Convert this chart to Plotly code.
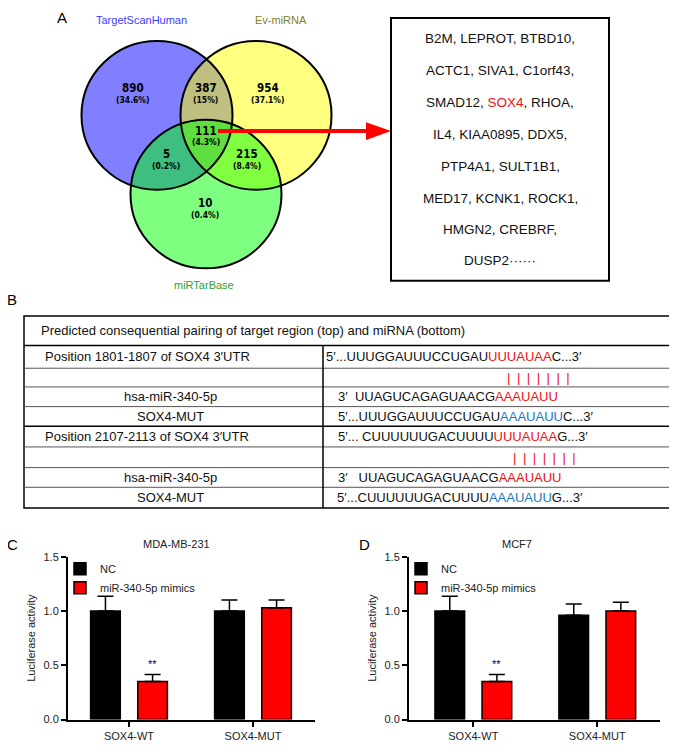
import plotly.graph_objects as go

W, H = 677, 749
OX, OY = 8, 8  # page body margin offset
def X(p): return (p - OX) / W
def Y(p): return 1 - (p - OY) / H

FONT = "Liberation Sans, Arial, Helvetica, sans-serif"
VFONT = "DejaVu Sans Condensed, DejaVu Sans, sans-serif"
RED = "#ee1111"
BLUE = "#1a78c2"

# ---------------- data ----------------
venn_sets = ["TargetScanHuman", "Ev-miRNA", "miRTarBase"]
venn_set_colors = ["#3b3bff", "#7f7f26", "#2fa02f"]
venn_regions = ["T only", "T&E", "E only", "T&E&M", "T&M", "E&M", "M only"]
venn_counts = [890, 387, 954, 111, 5, 215, 10]
venn_pcts = ["34.6%", "15%", "37.1%", "4.3%", "0.2%", "8.4%", "0.4%"]

gene_lines = ["B2M, LEPROT, BTBD10,", "ACTC1, SIVA1, C1orf43,", "SMAD12, SOX4, RHOA,",
              "IL4, KIAA0895, DDX5,", "PTP4A1, SULT1B1,", "MED17, KCNK1, ROCK1,",
              "HMGN2, CREBRF,", "DUSP2······"]
highlight_gene = "SOX4"

table_header = "Predicted consequential pairing of target region (top) and miRNA (bottom)"
table_left = ["Position 1801-1807 of SOX4 3′UTR", "", "hsa-miR-340-5p", "SOX4-MUT",
              "Position 2107-2113 of SOX4 3′UTR", "", "hsa-miR-340-5p", "SOX4-MUT"]
table_seq = [("5′...UUUGGAUUUCCUGAU", "UUUAUAA", "C...3′", "red"),
             ("", "|\u2002|\u2002|\u2002|\u2002|\u2002|\u2002|", "", "red"),
             ("3′\u00a0\u00a0UUAGUCAGAGUAACG", "AAAUAUU", "", "red"),
             ("5′...UUUGGAUUUCCUGAU", "AAAUAUU", "C...3′", "blue"),
             ("5′... CUUUUUUGACUUUU", "UUUAUAA", "G...3′", "red"),
             ("", "|\u2002|\u2002|\u2002|\u2002|\u2002|\u2002|", "", "red"),
             ("3′\u00a0\u00a0\u00a0UUAGUCAGAGUAACG", "AAAUAUU", "", "red"),
             ("5′...CUUUUUUGACUUUU", "AAAUAUU", "G...3′", "blue")]

groups = ["SOX4-WT", "SOX4-MUT"]
series_names = ["NC", "miR-340-5p mimics"]
c_title = "MDA-MB-231"
c_nc = [1.00, 1.00]
c_nc_err = [0.135, 0.10]
c_mim = [0.35, 1.03]
c_mim_err = [0.065, 0.07]
d_title = "MCF7"
d_nc = [1.00, 0.96]
d_nc_err = [0.135, 0.105]
d_mim = [0.35, 1.00]
d_mim_err = [0.065, 0.08]
sig_labels = ["**", ""]
y_ticks = [0.0, 0.5, 1.0, 1.5]

# ---------------- layout positions (pixels) ----------------
circles = [(157, 111, 75.5, "rgba(0,0,255,0.5)"),
           (256, 111, 75.5, "rgba(255,255,0,0.5)"),
           (206, 191, 75.5, "rgba(0,255,0,0.5)")]
set_label_pos = [(141, 14), (281, 14), (204, 283)]
region_pos = [(133, 85), (206, 85), (268, 85), (206, 128), (166, 152), (247, 152), (205, 202)]
gene_y = [33, 65, 98, 130, 163, 195, 227, 259]
row_bounds = [315, 345, 368, 387, 407, 427, 448, 469, 489, 510]
seq_x = [324, 505, 336, 336, 336, 511, 336, 335]

fig = go.Figure()
shapes = []
ann = []

def txt(px, py, text, size, color="#111", family=FONT, xanchor="center"):
    ann.append(dict(x=X(px), y=Y(py), xref="paper", yref="paper", text=text, showarrow=False,
                    xanchor=xanchor, yanchor="middle", font=dict(family=family, size=size, color=color)))

# ---------------- Venn ----------------
for cx, cy, r, fc in circles:
    shapes.append(dict(type="circle", xref="paper", yref="paper",
                       x0=X(cx - r), x1=X(cx + r), y0=Y(cy + r), y1=Y(cy - r),
                       fillcolor=fc, line=dict(width=0), layer="above"))
for cx, cy, r, fc in circles:
    shapes.append(dict(type="circle", xref="paper", yref="paper",
                       x0=X(cx - r), x1=X(cx + r), y0=Y(cy + r), y1=Y(cy - r),
                       fillcolor="rgba(0,0,0,0)", line=dict(width=2, color="black"), layer="above"))
for name, col, (px, py) in zip(venn_sets, venn_set_colors, set_label_pos):
    txt(px, py, name, 11, col)
for cnt, pct, (px, py) in zip(venn_counts, venn_pcts, region_pos):
    txt(px, py - 1.5, f"<b>{cnt}</b>", 11.5, "black", VFONT)
    txt(px, py + 10.5, f"<b>({pct})</b>", 8.5, "black", VFONT)
txt(62, 12, "A", 15, "black")

# arrow
shapes.append(dict(type="line", xref="paper", yref="paper", x0=X(218), x1=X(370), y0=Y(127), y1=Y(127),
                   line=dict(color="#ff0000", width=4), layer="above"))
shapes.append(dict(type="path", xref="paper", yref="paper",
                   path=f"M {X(366)} {Y(118)} L {X(391)} {Y(127)} L {X(366)} {Y(136)} Z",
                   fillcolor="#ff0000", line=dict(width=0), layer="above"))

# gene box
shapes.append(dict(type="rect", xref="paper", yref="paper", x0=X(391), x1=X(609), y0=Y(279), y1=Y(12),
                   line=dict(color="black", width=2), fillcolor="rgba(0,0,0,0)"))
for line, gy in zip(gene_lines, gene_y):
    t = line.replace(highlight_gene, f'<span style="color:{RED}">{highlight_gene}</span>')
    txt(500, gy, t, 13.5)

# ---------------- Table ----------------
txt(12, 298, "B", 15, "black")
shapes.append(dict(type="rect", xref="paper", yref="paper", x0=X(24), x1=X(672),
                   y0=Y(row_bounds[-1]), y1=Y(row_bounds[0]),
                   line=dict(color="black", width=1.5), fillcolor="rgba(0,0,0,0)"))
for yb in row_bounds[1:-1]:
    strong = yb in (row_bounds[1], row_bounds[5])
    shapes.append(dict(type="line", xref="paper", yref="paper", x0=X(24), x1=X(672), y0=Y(yb), y1=Y(yb),
                       line=dict(color="black" if strong else "#555", width=1.5 if strong else 1)))
shapes.append(dict(type="line", xref="paper", yref="paper", x0=X(323), x1=X(323),
                   y0=Y(row_bounds[1]), y1=Y(row_bounds[-1]), line=dict(color="black", width=1.5)))
txt(39, (row_bounds[0] + row_bounds[1]) / 2, table_header, 13, xanchor="left")
for i, (lt, (pre, hl, suf, col), sx) in enumerate(zip(table_left, table_seq, seq_x)):
    yc = (row_bounds[i + 1] + row_bounds[i + 2]) / 2
    if lt:
        if lt.startswith("Position"):
            txt(43, yc, lt, 13, xanchor="left")
        else:
            txt(170, yc, lt, 13)
    c = RED if col == "red" else BLUE
    txt(sx, yc, f'{pre}<span style="color:{c}">{hl}</span>{suf}', 13, xanchor="left")

# ---------------- Bar charts ----------------
def add_bars(nc, nce, mim, mime, xa, ya, legend):
    fig.add_trace(go.Bar(x=groups, y=nc, name=series_names[0],
                         marker=dict(color="black", line=dict(color="black", width=1.5)),
                         error_y=dict(type="data", array=nce, arrayminus=[0] * len(nce), symmetric=False,
                                      color="black", thickness=1.5, width=8),
                         xaxis=xa, yaxis=ya, legend=legend))
    fig.add_trace(go.Bar(x=groups, y=mim, name=series_names[1],
                         marker=dict(color="#ff0000", line=dict(color="black", width=1.5)),
                         error_y=dict(type="data", array=mime, arrayminus=[0] * len(mime), symmetric=False,
                                      color="black", thickness=1.5, width=8),
                         xaxis=xa, yaxis=ya, legend=legend))
    for k, s in enumerate(sig_labels):
        if s:
            ann.append(dict(x=k + 0.19, y=mim[k] + mime[k], xref=xa, yref=ya, text=s, showarrow=False,
                            xanchor="center", yanchor="bottom", yshift=2,
                            font=dict(family=FONT, size=11, color="black")))

add_bars(c_nc, c_nc_err, c_mim, c_mim_err, "x", "y", "legend")
add_bars(d_nc, d_nc_err, d_mim, d_mim_err, "x2", "y2", "legend2")

ydom = [Y(725), Y(559.5)]
axis_common = dict(showline=True, linecolor="black", linewidth=2, ticks="outside", ticklen=5,
                   tickwidth=2, tickcolor="black", showgrid=False, zeroline=False,
                   tickfont=dict(family=FONT, size=11, color="#222"))
ytitle = dict(text="Luciferase activity", font=dict(family=FONT, size=11, color="#222"), standoff=6)
fig.update_layout(
    xaxis=dict(domain=[X(68), X(315)], range=[-0.492, 1.5], anchor="y", **axis_common),
    yaxis=dict(domain=ydom, range=[0, 1.5], anchor="x", tickvals=y_ticks, tickformat=".1f",
               title=ytitle, **axis_common),
    xaxis2=dict(domain=[X(409), X(660)], range=[-0.519, 1.506], anchor="y2", **axis_common),
    yaxis2=dict(domain=ydom, range=[0, 1.5], anchor="x2", tickvals=y_ticks, tickformat=".1f",
                title=ytitle, **axis_common),
    barmode="group", bargap=0.24, bargroupgap=0.37,
    legend=dict(x=X(60), y=Y(557), xanchor="left", yanchor="top", bgcolor="rgba(0,0,0,0)",
                font=dict(family=FONT, size=11, color="#222"), tracegroupgap=0),
    legend2=dict(x=X(401), y=Y(557), xanchor="left", yanchor="top", bgcolor="rgba(0,0,0,0)",
                 font=dict(family=FONT, size=11, color="#222"), tracegroupgap=0),
)
txt(12, 547, "C", 15, "black")
txt(364, 547, "D", 15, "black")
txt(176, 547, c_title, 11, "#222")
txt(517, 547, d_title, 11, "#222")

fig.update_layout(width=W, height=H, margin=dict(l=0, r=0, t=0, b=0),
                  paper_bgcolor="white", plot_bgcolor="white",
                  shapes=shapes, annotations=ann, font=dict(family=FONT))
fig.write_html("out.html")
